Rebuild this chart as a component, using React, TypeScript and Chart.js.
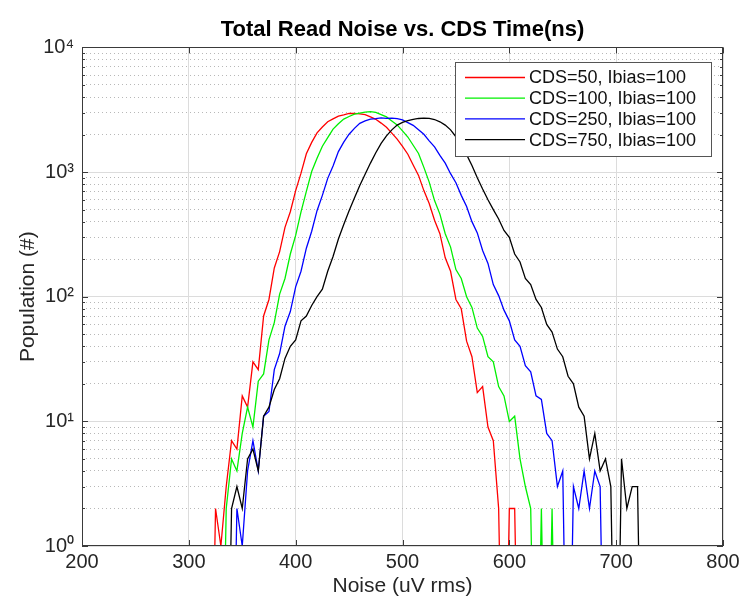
import { useEffect, useRef } from "react";
import { Chart, registerables } from "chart.js";

Chart.register(...registerables);

// Histogram bin centres (uV rms)
const noiseBins = [
  320, 325, 330, 335, 340, 345, 350, 355, 360, 365,
  370, 375, 380, 385, 390, 395, 400, 405, 410, 415,
  420, 425, 430, 435, 440, 445, 450, 455, 460, 465,
  470, 475, 480, 485, 490, 495, 500, 505, 510, 515,
  520, 525, 530, 535, 540, 545, 550, 555, 560, 565,
  570, 575, 580, 585, 590, 595, 600, 605, 610, 615,
  620, 625, 630, 635, 640, 645, 650, 655, 660, 665,
  670, 675, 680, 685, 690, 695, 700, 705, 710, 715,
  720, 725, 730,
];

// Populations (0.01 marks an empty bin, which drops below the log axis)
const cds50 = [
  0.01, 2, 1, 3, 7, 6, 16, 13, 30, 26,
  70, 95, 170, 230, 360, 480, 710, 980, 1400, 1730,
  2060, 2300, 2530, 2670, 2810, 2870, 2950, 2960, 2930, 2890,
  2770, 2650, 2470, 2290, 2050, 1840, 1610, 1390, 1140, 940,
  710, 560, 410, 320, 205, 160, 95, 80, 44, 33,
  17, 19, 9, 7, 2, 0.01, 2, 2, 0.01, null,
  null, null, null, null, null, null, null, null, null, null,
  null, null, null, null, null, null, null, null, null, null,
  null, null, null,
];

const cds100 = [
  null, null, 0.01, 2, 5, 4, 8, 13, 9, 21,
  24, 45, 62, 105, 140, 220, 310, 480, 700, 1010,
  1290, 1610, 1890, 2210, 2440, 2660, 2790, 2910, 2970, 3030,
  3050, 3010, 2890, 2770, 2570, 2390, 2140, 1910, 1640, 1410,
  1090, 830, 590, 460, 320, 250, 165, 140, 100, 82,
  56, 48, 33, 30, 19, 16, 10, 11, 5, 3,
  2, 0.01, 2, 0.01, 2, 0.01, null, null, null, null,
  null, null, null, null, null, null, null, null, null, null,
  null, null, null,
];

const cds250 = [
  null, null, null, null, 0.01, 2, 1, 4, 7, 4,
  11, 12, 26, 35, 58, 76, 120, 160, 245, 335,
  490, 650, 890, 1120, 1460, 1740, 2010, 2240, 2460, 2570,
  2660, 2680, 2720, 2700, 2710, 2680, 2620, 2490, 2370, 2180,
  2010, 1780, 1590, 1360, 1180, 970, 820, 650, 530, 400,
  325, 235, 185, 125, 102, 78, 64, 45, 40, 28,
  25, 16, 15, 8, 7, 3, 4, 0.01, 3, 2,
  4, 2, 4, 3, 0.01, null, null, null, null, null,
  null, null, null,
];

const cds750 = [
  null, null, null, 0.01, 2, 3, 2, 5, 6, 4,
  11, 13, 18, 22, 32, 40, 45, 64, 70, 85,
  100, 115, 160, 210, 290, 380, 490, 620, 780, 960,
  1180, 1430, 1700, 1950, 2180, 2380, 2500, 2580, 2650, 2690,
  2710, 2700, 2640, 2530, 2380, 2180, 1920, 1640, 1380, 1130,
  900, 730, 600, 500, 420, 340, 300, 220, 190, 140,
  125, 95, 82, 60, 52, 38, 33, 23, 20, 13,
  11, 5, 8, 4, 5, 3, 0.01, 5, 2, 3,
  3, 0.01, null,
];

const seriesValues = [cds50, cds100, cds250, cds750];
const seriesLabels = [
  "CDS=50, Ibias=100",
  "CDS=100, Ibias=100",
  "CDS=250, Ibias=100",
  "CDS=750, Ibias=100",
];
const seriesColors = ["#ff0000", "#00f000", "#0000ff", "#000000"];

const xTickValues = [200, 300, 400, 500, 600, 700, 800];
const yDecades = [1, 10, 100, 1000, 10000];
const yMinorTicks = [
  2, 3, 4, 5, 6, 7, 8, 9,
  20, 30, 40, 50, 60, 70, 80, 90,
  200, 300, 400, 500, 600, 700, 800, 900,
  2000, 3000, 4000, 5000, 6000, 7000, 8000, 9000,
];
const superscripts = ["⁰", "¹", "²", "³", "⁴"];

const titleText = "Total Read Noise vs. CDS Time(ns)";
const xTitle = "Noise (uV rms)";
const yTitle = "Population (#)";

const FONT = "'Liberation Sans', Arial, Helvetica, sans-serif";
const AXIS_COLOR = "#3a3a3a";
const TEXT_COLOR = "#262626";

const isDecade = (v: number) => yDecades.includes(v);

const axesFrame = {
  id: "axesFrame",
  afterDatasetsDraw(chart: any) {
    const { ctx, chartArea: a, scales } = chart;
    const xs = scales.x;
    const ys = scales.y;
    ctx.save();
    ctx.strokeStyle = AXIS_COLOR;
    ctx.lineWidth = 1;
    ctx.beginPath();
    xTickValues.forEach((v) => {
      const px = Math.round(xs.getPixelForValue(v)) + 0.5;
      ctx.moveTo(px, a.bottom);
      ctx.lineTo(px, a.bottom - 6);
      ctx.moveTo(px, a.top);
      ctx.lineTo(px, a.top + 6);
    });
    [...yDecades, ...yMinorTicks].forEach((v) => {
      const len = isDecade(v) ? 6 : 3;
      const py = Math.round(ys.getPixelForValue(v)) + 0.5;
      ctx.moveTo(a.left, py);
      ctx.lineTo(a.left + len, py);
      ctx.moveTo(a.right, py);
      ctx.lineTo(a.right - len, py);
    });
    ctx.stroke();
    ctx.strokeRect(
      Math.round(a.left) + 0.5,
      Math.round(a.top) + 0.5,
      Math.round(a.right - a.left) - 1,
      Math.round(a.bottom - a.top) - 1
    );
    ctx.restore();
  },
};

const boxLegend = {
  id: "boxLegend",
  afterDraw(chart: any) {
    const { ctx, chartArea: a } = chart;
    const w = 256;
    const h = 94;
    const x0 = Math.round(a.right - 12 - w);
    const y0 = Math.round(a.top + 15);
    ctx.save();
    ctx.fillStyle = "#ffffff";
    ctx.fillRect(x0, y0, w, h);
    ctx.strokeStyle = "#555555";
    ctx.lineWidth = 1;
    ctx.strokeRect(x0 + 0.5, y0 + 0.5, w, h);
    ctx.font = `18px ${FONT}`;
    ctx.textBaseline = "middle";
    ctx.textAlign = "left";
    chart.data.datasets.forEach((ds: any, i: number) => {
      const cy = y0 + 15.5 + i * 20.7;
      ctx.strokeStyle = ds.borderColor;
      ctx.lineWidth = 1.3;
      ctx.beginPath();
      ctx.moveTo(x0 + 10, cy);
      ctx.lineTo(x0 + 70, cy);
      ctx.stroke();
      ctx.fillStyle = "#111111";
      ctx.fillText(ds.label, x0 + 74, cy + 1);
    });
    ctx.restore();
  },
};

export default function App() {
  const canvasRef = useRef<HTMLCanvasElement | null>(null);

  useEffect(() => {
    if (!canvasRef.current) return;
    const datasets = seriesValues.map((vals, i) => ({
      label: seriesLabels[i],
      data: noiseBins.map((x, j) => ({ x, y: vals[j] })),
      borderColor: seriesColors[i],
      backgroundColor: seriesColors[i],
      borderWidth: 1.3,
      pointRadius: 0,
      tension: 0,
      fill: false,
      spanGaps: false,
      order: seriesValues.length - i,
    }));

    const chart = new Chart(canvasRef.current, {
      type: "line",
      data: { datasets },
      plugins: [axesFrame, boxLegend],
      options: {
        animation: false,
        responsive: false,
        devicePixelRatio: 1,
        layout: { padding: { left: 0, right: 16, top: 0, bottom: 0 } },
        plugins: {
          legend: { display: false },
          tooltip: { enabled: false },
          title: {
            display: true,
            text: titleText,
            fullSize: false,
            color: "#000000",
            font: { family: FONT, size: 22, weight: "bold" },
            padding: { top: 17, bottom: 4 },
          },
        },
        scales: {
          x: {
            type: "linear",
            min: 200,
            max: 800,
            afterFit: (scale: any) => {
              scale.height = 60;
              scale.paddingLeft = 0;
              scale.paddingRight = 0;
            },
            afterBuildTicks: (scale: any) => {
              scale.ticks = xTickValues.map((v) => ({ value: v }));
            },
            ticks: {
              autoSkip: false,
              maxRotation: 0,
              padding: 4,
              color: TEXT_COLOR,
              font: { family: FONT, size: 20 },
              callback: (v: any) => String(v),
            },
            grid: { color: "#dcdcdc", lineWidth: 1, drawTicks: false },
            border: { display: false },
            title: {
              display: true,
              text: xTitle,
              color: TEXT_COLOR,
              font: { family: FONT, size: 21 },
              padding: { top: 0, bottom: 7 },
            },
          },
          y: {
            type: "logarithmic",
            min: 1,
            max: 10000,
            afterFit: (scale: any) => {
              scale.width = 82;
              scale.paddingTop = 0;
              scale.paddingBottom = 0;
            },
            afterBuildTicks: (scale: any) => {
              scale.ticks = [...yDecades, ...yMinorTicks]
                .sort((p, q) => p - q)
                .map((v) => ({ value: v, major: isDecade(v) }));
            },
            ticks: {
              autoSkip: false,
              padding: 8,
              color: TEXT_COLOR,
              font: { family: FONT, size: 20 },
              callback: (v: any) => {
                const n = Number(v);
                if (!isDecade(n)) return "";
                return "10" + superscripts[Math.round(Math.log10(n))];
              },
            },
            grid: {
              color: (c: any) =>
                c.tick && !isDecade(c.tick.value) ? "#b8b8b8" : "#dcdcdc",
              lineWidth: 1,
              drawTicks: false,
            },
            border: {
              display: false,
              dash: (c: any) =>
                c.tick && !isDecade(c.tick.value) ? [1, 3] : [],
            },
            title: {
              display: true,
              text: yTitle,
              color: TEXT_COLOR,
              font: { family: FONT, size: 21 },
              padding: { top: 16, bottom: 0 },
            },
          },
        },
      } as any,
    });
    return () => chart.destroy();
  }, []);

  return (
    <div style={{ position: "absolute", left: 0, top: 0, width: 739, height: 606, background: "#fff" }}>
      <canvas ref={canvasRef} width={739} height={606} style={{ width: 739, height: 606 }} />
    </div>
  );
}
